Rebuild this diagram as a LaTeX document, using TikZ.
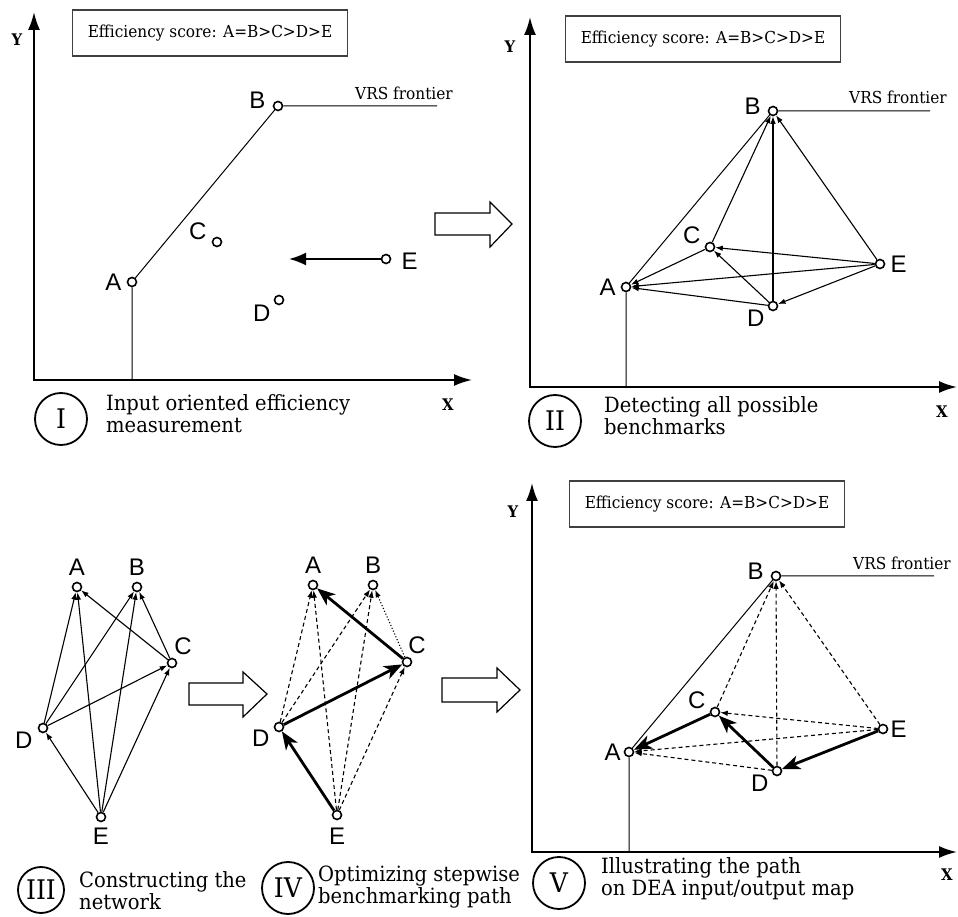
\documentclass[tikz,border=0pt]{standalone}
\usepackage{fontspec}
\setmainfont{DejaVu Serif}[FakeStretch=0.93]
\newfontfamily\labfont{Liberation Sans}
\usetikzlibrary{arrows.meta,positioning}

\begin{document}
\begin{tikzpicture}[
x=1pt,y=1pt,
dmu/.style={circle,draw,line width=1.6pt,fill=white,inner sep=0pt,minimum size=9pt},
dmulabel/.style={font=\labfont\fontsize{24}{24}\selectfont,inner sep=0pt},
axes/.style={{Latex[length=18pt,width=12pt]}-{Latex[length=18pt,width=12pt]},line width=2pt,line join=miter},
projarrow/.style={-{Latex[length=17pt,width=13pt]},line width=2pt},
frontier/.style={line width=1pt},
link/.style={-{Latex[length=7.5pt,width=5.5pt]},line width=1.1pt},
cand/.style={link,dash pattern=on 4pt off 3pt},
weak/.style={link,dotted},
stepedge/.style={-{Stealth[length=18pt,width=14pt,inset=5pt]},line width=2.8pt},
scorebox/.style={draw=black!75,line width=1.1pt,minimum width=275pt,minimum height=46pt,font=\fontsize{16.5}{19}\selectfont},
stage/.style={circle,draw,line width=1.8pt,inner sep=0pt,minimum size=52pt,font=\fontsize{27}{27}\selectfont},
caption/.style={anchor=west,align=left,inner sep=0pt,font=\fontsize{21}{22}\selectfont},
vrs/.style={font=\fontsize{16.5}{16.5}\selectfont,inner sep=0pt},
axlabel/.style={font=\bfseries\fontsize{16}{16}\selectfont,inner sep=0pt},
bigarrow/.style={draw,line width=1.2pt,fill=white,line join=miter}
]
\useasboundingbox (0,0) rectangle (958,916);

% panel I: input oriented measurement
\coordinate (oI) at (34,536);
\draw[axes] (34,904) -- (oI) -- (472,536);
\node[axlabel] (yI) at (17,876) {Y};
\node[axlabel] (xI) at (448,511) {X};
\node[scorebox] (sI) at (210,883) {Efficiency score: A=B>C>D>E};
\node[dmu] (A1) at (132,634) {};
\node[dmu] (B1) at (278,810) {};
\node[dmu] (C1) at (217,674) {};
\node[dmu] (D1) at (279,616) {};
\node[dmu] (E1) at (386,657) {};
\coordinate (fI) at (437,810);
\coordinate (pI) at (289,657);
\draw[frontier] (A1 |- oI) -- (A1) -- (B1) -- (fI);
\draw[projarrow] (E1) -- (pI);
\node[vrs] (vI) at (404,823) {VRS frontier};
\node[dmulabel,left=5pt of A1] {A};
\node[dmulabel,left=7pt of B1,yshift=6pt] {B};
\node[dmulabel,left=5pt of C1,yshift=11pt] {C};
\node[dmulabel,left=3pt of D1,yshift=-13pt] {D};
\node[dmulabel,right=10pt of E1,yshift=-2pt] {E};
\node[stage] (sgI) at (61,497) {I};
\node[caption] (cI) at (106,502) {Input oriented efficiency\\measurement};

\draw[bigarrow] (435,681) -- (490,681) -- (490,669) -- (512,692) -- (490,714) -- (490,703) -- (435,703) -- cycle;

% panel II: all possible benchmarks
\coordinate (oII) at (530,529);
\draw[axes] (530,899) -- (oII) -- (957,529);
\node[axlabel] (yII) at (510,869) {Y};
\node[axlabel] (xII) at (942,504) {X};
\node[scorebox] (sII) at (703,877) {Efficiency score: A=B>C>D>E};
\node[dmu] (A2) at (626,629) {};
\node[dmu] (B2) at (773,805) {};
\node[dmu] (C2) at (710,669) {};
\node[dmu] (D2) at (773,610) {};
\node[dmu] (E2) at (880,652) {};
\coordinate (fII) at (930,805);
\draw[frontier] (A2 |- oII) -- (A2) -- (B2) -- (fII);
\foreach \s/\t in {C2/A2,E2/A2,D2/A2,C2/B2,D2/B2,E2/B2,E2/C2,D2/C2,E2/D2}
  \draw[link] (\s) -- (\t);
\node[vrs] (vII) at (898,819) {VRS frontier};
\node[dmulabel,left=5pt of A2] {A};
\node[dmulabel,left=7pt of B2,yshift=5pt] {B};
\node[dmulabel,left=4pt of C2,yshift=12pt] {C};
\node[dmulabel,left=3pt of D2,yshift=-12pt] {D};
\node[dmulabel,right=5pt of E2] {E};
\node[stage] (sgII) at (555,495) {II};
\node[caption] (cII) at (604,500) {Detecting all possible\\benchmarks};

% panel III: network
\node[dmu] (A3) at (77,329) {};
\node[dmu] (B3) at (137,329) {};
\node[dmu] (C3) at (172,253) {};
\node[dmu] (D3) at (43,188) {};
\node[dmu] (E3) at (101,99) {};
\foreach \s/\t in {C3/A3,E3/A3,D3/A3,C3/B3,D3/B3,E3/B3,E3/C3,D3/C3,E3/D3}
  \draw[link] (\s) -- (\t);
\node[dmulabel,above=6pt of A3] {A};
\node[dmulabel,above=6pt of B3] {B};
\node[dmulabel,above=3pt of C3,xshift=11pt] {C};
\node[dmulabel,left=5pt of D3,yshift=-12pt] {D};
\node[dmulabel,below=5pt of E3] {E};
\node[stage,minimum size=46pt] (sgIII) at (41,26) {III};
\node[caption] (cIII) at (79,25) {Constructing the\\network};

\draw[bigarrow] (189,211) -- (243,211) -- (243,199) -- (267,222) -- (243,244) -- (243,233) -- (189,233) -- cycle;

% panel IV: stepwise path
\node[dmu] (A4) at (313,331) {};
\node[dmu] (B4) at (373,331) {};
\node[dmu] (C4) at (407,254) {};
\node[dmu] (D4) at (279,189) {};
\node[dmu] (E4) at (337,101) {};
\foreach \s/\t in {D4/A4,E4/A4,D4/B4,E4/B4,E4/C4}
  \draw[cand] (\s) -- (\t);
\draw[weak] (C4) -- (B4);
\foreach \s/\t in {E4/D4,D4/C4,C4/A4}
  \draw[stepedge] (\s) -- (\t);
\node[dmulabel,above=6pt of A4] {A};
\node[dmulabel,above=6pt of B4] {B};
\node[dmulabel,above=3pt of C4,xshift=10pt] {C};
\node[dmulabel,left=4pt of D4,yshift=-11pt] {D};
\node[dmulabel,below=7pt of E4] {E};
\node[stage] (sgIV) at (288,28) {IV};
\node[caption] (cIV) at (318,29) {Optimizing stepwise\\benchmarking path};

\draw[bigarrow] (442,214) -- (497,214) -- (497,204) -- (520,226) -- (497,248) -- (497,238) -- (442,238) -- cycle;

% panel V: path on the map
\coordinate (oV) at (532,64);
\draw[axes] (532,433) -- (oV) -- (957,64);
\node[axlabel] (yV) at (513,404) {Y};
\node[axlabel] (xV) at (947,41) {X};
\node[scorebox] (sV) at (707,412) {Efficiency score: A=B>C>D>E};
\node[dmu] (A5) at (629,164) {};
\node[dmu] (B5) at (776,340) {};
\node[dmu] (C5) at (715,204) {};
\node[dmu] (D5) at (777,145) {};
\node[dmu] (E5) at (883,187) {};
\coordinate (fV) at (934,340);
\draw[frontier] (A5 |- oV) -- (A5) -- (B5) -- (fV);
\foreach \s/\t in {C5/B5,D5/B5,E5/B5,E5/C5,E5/A5,D5/A5}
  \draw[cand] (\s) -- (\t);
\foreach \s/\t in {E5/D5,D5/C5,C5/A5}
  \draw[stepedge] (\s) -- (\t);
\node[vrs] (vV) at (902,353) {VRS frontier};
\node[dmulabel,left=3pt of A5] {A};
\node[dmulabel,left=7pt of B5,yshift=5pt] {B};
\node[dmulabel,left=4pt of C5,yshift=12pt] {C};
\node[dmulabel,left=3pt of D5,yshift=-12pt] {D};
\node[dmulabel,right=2pt of E5] {E};
\node[stage] (sgV) at (559,33) {V};
\node[caption] (cV) at (601,37) {Illustrating the path\\on DEA input/output map};
\end{tikzpicture}
\end{document}
